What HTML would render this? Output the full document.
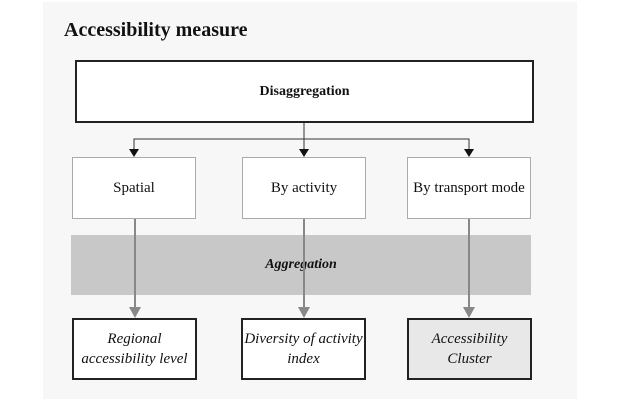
<!DOCTYPE html>
<html><head><style>
body{margin:0;width:621px;height:401px;background:#fff;position:relative;overflow:hidden;font-family:"Liberation Serif",serif;}
.p{position:absolute;left:43px;top:2px;width:534px;height:397px;background:#f7f7f7;}
.b{position:absolute;box-sizing:border-box;display:flex;align-items:center;justify-content:center;text-align:center;color:#111;}
</style></head><body>
<div class="p"></div>
<div style="position:absolute;left:64px;top:19px;font-size:20px;font-weight:bold;color:#111;">Accessibility measure</div>
<div class="b" style="left:75px;top:60px;width:459px;height:63px;background:#fff;border:2px solid #222;font-weight:bold;font-size:14px;">Disaggregation</div>
<div class="b" style="left:71px;top:235px;width:460px;height:60px;background:#c8c8c8;font-weight:bold;font-style:italic;font-size:14px;">Aggregation</div>
<div class="b" style="left:72px;top:157px;width:124px;height:62px;background:#fff;border:1px solid #aaa;font-size:15px;">Spatial</div>
<div class="b" style="left:242px;top:157px;width:124px;height:62px;background:#fff;border:1px solid #aaa;font-size:15px;">By activity</div>
<div class="b" style="left:407px;top:157px;width:124px;height:62px;background:#fff;border:1px solid #aaa;font-size:15px;">By transport mode</div>
<div class="b" style="left:72px;top:318px;width:125px;height:62px;background:#fff;border:2px solid #222;font-style:italic;font-size:15px;line-height:20px;">Regional<br>accessibility level</div>
<div class="b" style="left:241px;top:318px;width:125px;height:62px;background:#fff;border:2px solid #222;font-style:italic;font-size:15px;line-height:20px;">Diversity of activity<br>index</div>
<div class="b" style="left:407px;top:318px;width:125px;height:62px;background:#e8e8e8;border:2px solid #222;font-style:italic;font-size:15px;line-height:20px;">Accessibility<br>Cluster</div>
<svg width="621" height="401" style="position:absolute;left:0;top:0">
<g stroke="#333" stroke-width="1" fill="none">
<line x1="304" y1="123" x2="304" y2="150"/>
<polyline points="134,150 134,139 469,139 469,150"/>
</g>
<g fill="#111">
<polygon points="129,149 139,149 134,157"/>
<polygon points="299,149 309,149 304,157"/>
<polygon points="464,149 474,149 469,157"/>
</g>
<g stroke="#888" stroke-width="2">
<line x1="135" y1="219" x2="135" y2="308"/>
<line x1="304" y1="219" x2="304" y2="308"/>
<line x1="469" y1="219" x2="469" y2="308"/>
</g>
<g fill="#888">
<polygon points="129,307 141,307 135,318"/>
<polygon points="298,307 310,307 304,318"/>
<polygon points="463,307 475,307 469,318"/>
</g>
</svg>
</body></html>
